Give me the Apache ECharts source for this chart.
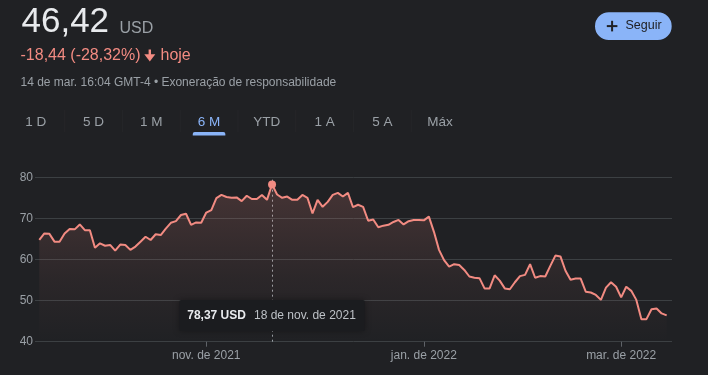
<!DOCTYPE html>
<html>
<head>
<meta charset="utf-8">
<script src="https://cdn.jsdelivr.net/npm/echarts@6/dist/echarts.min.js"></script>
<style>
html,body{margin:0;padding:0;background:#202124;}
#chart{width:708px;height:375px;}
</style>
</head>
<body>
<div id="chart"></div>
<script>
// ---------- data ----------
const dates = [
'2021-09-15','2021-09-16','2021-09-17','2021-09-20','2021-09-21','2021-09-22','2021-09-23','2021-09-24','2021-09-27','2021-09-28','2021-09-29','2021-09-30',
'2021-10-01','2021-10-04','2021-10-05','2021-10-06','2021-10-07','2021-10-08','2021-10-11','2021-10-12','2021-10-13','2021-10-14','2021-10-15','2021-10-18','2021-10-19','2021-10-20','2021-10-21','2021-10-22','2021-10-25','2021-10-26','2021-10-27','2021-10-28','2021-10-29',
'2021-11-01','2021-11-02','2021-11-03','2021-11-04','2021-11-05','2021-11-08','2021-11-09','2021-11-10','2021-11-11','2021-11-12','2021-11-15','2021-11-16','2021-11-17','2021-11-18','2021-11-19','2021-11-22','2021-11-23','2021-11-24','2021-11-26','2021-11-29','2021-11-30',
'2021-12-01','2021-12-02','2021-12-03','2021-12-06','2021-12-07','2021-12-08','2021-12-09','2021-12-10','2021-12-13','2021-12-14','2021-12-15','2021-12-16','2021-12-17','2021-12-20','2021-12-21','2021-12-22','2021-12-23','2021-12-27','2021-12-28','2021-12-29','2021-12-30','2021-12-31',
'2022-01-03','2022-01-04','2022-01-05','2022-01-06','2022-01-07','2022-01-10','2022-01-11','2022-01-12','2022-01-13','2022-01-14','2022-01-18','2022-01-19','2022-01-20','2022-01-21','2022-01-24','2022-01-25','2022-01-26','2022-01-27','2022-01-28','2022-01-31',
'2022-02-01','2022-02-02','2022-02-03','2022-02-04','2022-02-07','2022-02-08','2022-02-09','2022-02-10','2022-02-11','2022-02-14','2022-02-15','2022-02-16','2022-02-17','2022-02-18','2022-02-22','2022-02-23','2022-02-24','2022-02-25','2022-02-28',
'2022-03-01','2022-03-02','2022-03-03','2022-03-04','2022-03-07','2022-03-08','2022-03-09','2022-03-10','2022-03-11','2022-03-14'
];
const prices = [
64.86,66.4,66.3,64.4,64.4,66.4,67.5,67.4,68.6,67.2,67.2,62.9,
64.0,63.4,63.6,62.2,63.7,63.6,62.4,63.2,64.4,65.6,64.8,66.2,66.0,67.6,69.0,69.4,70.9,71.2,68.5,69.1,69.0,
71.5,72.1,75.0,75.8,75.3,75.1,75.2,74.3,75.6,74.8,74.8,75.8,74.6,78.37,75.9,75.1,75.4,74.6,74.6,
75.8,75.1,71.3,74.6,72.9,74.1,75.8,76.3,75.4,76.3,72.8,73.4,72.9,69.5,69.8,67.9,68.3,68.5,69.2,69.7,68.6,69.4,
69.7,69.7,69.6,70.5,66.8,62.4,59.9,58.3,58.9,58.7,57.5,55.9,55.6,55.5,53.0,53.0,56.2,54.9,53.0,52.8,
54.5,56.0,56.3,58.9,55.6,56.0,55.9,58.5,61.0,60.8,57.3,55.1,55.4,55.4,52.2,52.0,51.4,50.2,53.2,
54.5,53.4,50.8,53.4,52.4,50.2,45.5,45.5,47.9,48.1,46.9,46.42
];
const yTicks = [40, 50, 60, 70, 80];
const xLabelMonths = ['2021-11', '2022-01', '2022-03'];
const xLabelTexts = ['nov. de 2021', 'jan. de 2022', 'mar. de 2022'];
const hoverDate = '2021-11-18';
const hoverDateText = '18 de nov. de 2021';
const currency = 'USD';
const lastPrice = '46,42';
const changeText = '-18,44 (-28,32%)';
const changeSuffix = 'hoje';
const infoText = '14 de mar. 16:04 GMT-4 • Exoneração de responsabilidade';
const ranges = ['1 D', '5 D', '1 M', '6 M', 'YTD', '1 A', '5 A', 'Máx'];
const activeRange = '6 M';
const followText = 'Seguir';

// ---------- derived ----------
const seriesData = prices.map((v, i) => [i, v]);
const labelIdx = xLabelMonths.map(m => dates.findIndex(d => d.startsWith(m)));
const labelMap = {};
labelIdx.forEach((ix, k) => { labelMap[ix] = xLabelTexts[k]; });
const hoverIdx = dates.indexOf(hoverDate);

const FONT = '"Liberation Sans", Arial, sans-serif';
const RED = '#f28b82';
const BLUE = '#8ab4f8';
const GREY = '#9aa0a6';

const chart = echarts.init(document.getElementById('chart'), null, {renderer: 'canvas'});

chart.setOption({
  animation: false,
  backgroundColor: '#202124',
  grid: {left: 35, right: 36, top: 177.7, bottom: 33.3, containLabel: false, outerBoundsMode: 'none'},
  xAxis: {
    type: 'value',
    min: -0.85,
    max: 125.05,
    axisLine: {show: false},
    splitLine: {show: false},
    axisTick: {show: true, customValues: labelIdx, length: 5, lineStyle: {color: '#5f6368', width: 1}},
    axisLabel: {
      customValues: labelIdx,
      formatter: v => labelMap[v] || '',
      color: GREY, fontSize: 12, fontFamily: FONT, margin: 7.5
    }
  },
  yAxis: {
    type: 'value',
    min: yTicks[0], max: yTicks[yTicks.length - 1], interval: yTicks[1] - yTicks[0],
    axisLine: {show: false},
    axisTick: {show: false},
    axisLabel: {color: GREY, fontSize: 12, fontFamily: FONT, margin: 2},
    splitLine: {lineStyle: {color: '#3c4043', width: 1}}
  },
  series: [
    {
      type: 'line',
      data: seriesData,
      showSymbol: false,
      smooth: false,
      lineStyle: {color: RED, width: 2},
      itemStyle: {color: RED},
      areaStyle: {
        color: {
          type: 'linear', x: 0, y: 0, x2: 0, y2: 1,
          colorStops: [
            {offset: 0, color: 'rgba(242,139,130,0.26)'},
            {offset: 0.6, color: 'rgba(242,139,130,0.08)'},
            {offset: 1, color: 'rgba(242,139,130,0.0)'}
          ]
        }
      },
      markLine: {
        silent: true,
        symbol: ['none', 'none'],
        label: {show: false},
        lineStyle: {color: '#9aa0a6', type: [2, 3], width: 1},
        data: [{xAxis: hoverIdx}],
        z: 1
      },
      z: 2
    },
    {
      type: 'scatter',
      data: [[hoverIdx, prices[hoverIdx]]],
      symbol: 'circle',
      symbolSize: 8,
      itemStyle: {color: RED, opacity: 1},
      z: 5
    }
  ]
});

// ---------- overlay texts / tooltip ----------
const hp = chart.convertToPixel({gridIndex: 0}, [hoverIdx, prices[hoverIdx]]);
const priceStr = prices[hoverIdx].toFixed(2).replace('.', ',') + ' ' + currency;

const graphics = [];
// big price
graphics.push({type: 'text', x: 21.5, y: 22.3, style: {text: lastPrice, fill: '#e8eaed', font: '35px ' + FONT, verticalAlign: 'middle'}});
graphics.push({type: 'text', x: 119.5, y: 28.6, style: {text: currency, fill: GREY, font: '16px ' + FONT, verticalAlign: 'middle'}});
// change line
graphics.push({type: 'text', x: 20.5, y: 55.6, style: {text: changeText, fill: RED, font: '16px ' + FONT, verticalAlign: 'middle'}});
graphics.push({type: 'rect', shape: {x: 148.6, y: 49.5, width: 2.4, height: 7}, style: {fill: RED}});
graphics.push({type: 'polygon', shape: {points: [[144.3, 54.3], [155.3, 54.3], [149.8, 61.5]]}, style: {fill: RED}});
graphics.push({type: 'text', x: 160.5, y: 55.6, style: {text: changeSuffix, fill: RED, font: '16px ' + FONT, verticalAlign: 'middle'}});
// info line
graphics.push({type: 'text', x: 20.5, y: 82.6, style: {text: infoText, fill: GREY, font: '12px ' + FONT, verticalAlign: 'middle'}});
// tabs
ranges.forEach((r, i) => {
  const cx = 35.8 + 57.75 * i;
  const active = r === activeRange;
  graphics.push({type: 'text', x: cx, y: 121.8, style: {text: r, fill: active ? BLUE : GREY, font: '13.5px ' + FONT, align: 'center', verticalAlign: 'middle'}});
  if (active) {
    graphics.push({type: 'rect', shape: {x: cx - 16.3, y: 132, width: 32.6, height: 3.6, r: [2, 2, 0, 0]}, style: {fill: BLUE}});
  }
  if (i < ranges.length - 1) {
    graphics.push({type: 'line', shape: {x1: cx + 28.9, y1: 110, x2: cx + 28.9, y2: 132}, style: {stroke: '#252629', lineWidth: 1}});
  }
});
// follow button
graphics.push({type: 'rect', shape: {x: 595, y: 12.3, width: 76.7, height: 27.7, r: 13.85}, style: {fill: BLUE}});
graphics.push({type: 'line', shape: {x1: 606.8, y1: 26.1, x2: 617.4, y2: 26.1}, style: {stroke: '#202124', lineWidth: 2}});
graphics.push({type: 'line', shape: {x1: 612.1, y1: 20.8, x2: 612.1, y2: 31.4}, style: {stroke: '#202124', lineWidth: 2}});
graphics.push({type: 'text', x: 625.5, y: 25.6, style: {text: followText, fill: '#202124', font: '12.5px ' + FONT, verticalAlign: 'middle'}});
// tooltip box
graphics.push({
  type: 'text', x: hp[0], y: 300, z: 100,
  style: {
    text: '{a|' + priceStr + '}{b|' + hoverDateText + '}',
    align: 'center', verticalAlign: 'top',
    backgroundColor: '#1b1c1f',
    padding: [8.5, 9, 8.5, 8],
    borderRadius: 2,
    shadowBlur: 6, shadowColor: 'rgba(0,0,0,0.35)',
    rich: {
      a: {fill: '#e8eaed', font: 'bold 12px ' + FONT, lineHeight: 14, padding: [0, 8, 0, 0]},
      b: {fill: '#bdc1c6', font: '12px ' + FONT, lineHeight: 14}
    }
  }
});

chart.setOption({graphic: graphics});
</script>
</body>
</html>
